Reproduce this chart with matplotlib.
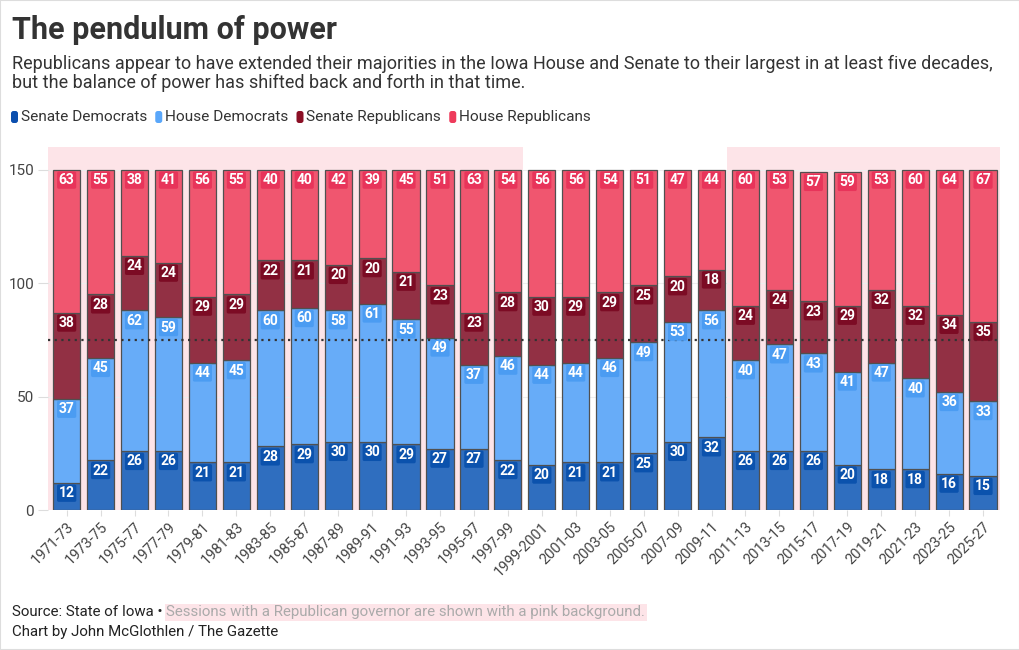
import matplotlib
matplotlib.use("Agg")
import matplotlib.pyplot as plt
from matplotlib.patches import FancyBboxPatch, Rectangle

plt.rcParams['font.family'] = ['Roboto', 'DejaVu Sans']

sessions = ['1971-73', '1973-75', '1975-77', '1977-79', '1979-81', '1981-83', '1983-85',
            '1985-87', '1987-89', '1989-91', '1991-93', '1993-95', '1995-97', '1997-99',
            '1999-2001', '2001-03', '2003-05', '2005-07', '2007-09', '2009-11', '2011-13',
            '2013-15', '2015-17', '2017-19', '2019-21', '2021-23', '2023-25', '2025-27']
senate_dem = [12, 22, 26, 26, 21, 21, 28, 29, 30, 30, 29, 27, 27, 22,
              20, 21, 21, 25, 30, 32, 26, 26, 26, 20, 18, 18, 16, 15]
house_dem = [37, 45, 62, 59, 44, 45, 60, 60, 58, 61, 55, 49, 37, 46,
             44, 44, 46, 49, 53, 56, 40, 47, 43, 41, 47, 40, 36, 33]
senate_rep = [38, 28, 24, 24, 29, 29, 22, 21, 20, 20, 21, 23, 23, 28,
              30, 29, 29, 25, 20, 18, 24, 24, 23, 29, 32, 32, 34, 35]
house_rep = [63, 55, 38, 41, 56, 55, 40, 40, 42, 39, 45, 51, 63, 54,
             56, 56, 54, 51, 47, 44, 60, 53, 57, 59, 53, 60, 64, 67]
# True = Republican governor (pink background)
rep_governor = [True] * 14 + [False] * 6 + [True] * 8

series = [
    ('Senate Democrats', senate_dem, '#2f6ebf', '#0b52ad'),
    ('House Democrats', house_dem, '#67acf8', '#4b9cf2'),
    ('Senate Republicans', senate_rep, '#923044', '#7c0b24'),
    ('House Republicans', house_rep, '#f0566f', '#e8345a'),
]

fig = plt.figure(figsize=(10.2, 6.5), dpi=100)
ax = fig.add_axes([48 / 1020, 1 - 510 / 650, (1000 - 48) / 1020, (510 - 147) / 650])

x = list(range(len(sessions)))
x_left, x_right = -0.55, len(sessions) - 0.5

# pink background for Republican governors
start = None
for i, r in enumerate(rep_governor + [False]):
    if r and start is None:
        start = i
    if not r and start is not None:
        lo = x_left if start == 0 else start - 0.55
        hi = x_right if i == len(sessions) else i - 0.55
        ax.axvspan(lo, hi, color='#fde4e8', lw=0, zorder=0)
        start = None

bottom = [0] * len(sessions)
for name, vals, col, lab_col in series:
    ax.bar(x, vals, width=0.8, bottom=bottom, color=col, edgecolor='#505050',
           linewidth=0.9, zorder=3)
    for i, v in enumerate(vals):
        top = bottom[i] + v
        ax.annotate(str(v), xy=(i, top), xytext=(0, -7.5), textcoords='offset points',
                    ha='center', va='center', color='white', fontsize=10,
                    fontweight='bold', zorder=5,
                    bbox=dict(boxstyle='round,pad=0.12', fc=lab_col, ec='none'))
    bottom = [b + v for b, v in zip(bottom, vals)]

ax.axhline(75, color='#333333', linestyle=(0, (1, 2)), linewidth=1.6, zorder=4)

ax.set_xlim(x_left, x_right)
ax.set_ylim(0, 160)
ax.set_yticks([0, 50, 100, 150])
ax.grid(axis='y', color='#eeeeee', linewidth=0.8, zorder=1)
ax.set_axisbelow(True)
ax.set_xticks(x)
ax.set_xticklabels(sessions, rotation=45, ha='right', rotation_mode='anchor')
ax.tick_params(axis='x', length=4, color='#dddddd', labelsize=10.5, labelcolor='#444444', pad=3)
ax.tick_params(axis='y', length=7, color='#dddddd', labelsize=11, labelcolor='#444444', pad=3)
for s in ax.spines.values():
    s.set_visible(False)

# titles
fig.text(12 / 1020, 1 - 39 / 650, 'The pendulum of power', fontsize=22, fontweight='bold',
         color='#333333', va='baseline')
fig.text(12 / 1020, 1 - 69 / 650,
         'Republicans appear to have extended their majorities in the Iowa House and Senate '
         'to their largest in at least five decades,', fontsize=13.0, color='#333333', va='baseline')
fig.text(12 / 1020, 1 - 88 / 650, 'but the balance of power has shifted back and forth in that time.',
         fontsize=13.0, color='#333333', va='baseline')

# legend
fig.canvas.draw()
renderer = fig.canvas.get_renderer()
legend_cols = ['#0b4fae', '#5aa7fa', '#8b0f25', '#ee3b5b']
px = 11
base_y = 650 - 121
for (name, _, _, _), lc in zip(series, legend_cols):
    sq = FancyBboxPatch((px, base_y - 2), 7, 12, boxstyle='round,pad=0,rounding_size=2.5',
                        fc=lc, ec='none', transform=None)
    fig.patches.append(sq)
    t = fig.text((px + 10) / 1020, base_y / 650, name, fontsize=11.1, color='#333333', va='baseline')
    w = t.get_window_extent(renderer).width
    px = px + 10 + w + 8

# footer
t1 = fig.text(12 / 1020, 1 - 616 / 650, 'Source: State of Iowa \u2022 ', fontsize=10.8,
              color='#222222', va='baseline')
w1 = t1.get_window_extent(renderer).width
fig.text((12 + w1) / 1020, 1 - 616 / 650,
         'Sessions with a Republican governor are shown with a pink background.',
         fontsize=10.8, color='#aaaaaa', va='baseline',
         bbox=dict(boxstyle='square,pad=0.1', fc='#fde4e8', ec='none'))
fig.text(12 / 1020, 1 - 636 / 650, 'Chart by John McGlothlen / The Gazette', fontsize=10.8,
         color='#222222', va='baseline')

fig.patches.append(Rectangle((0, 0), 1, 1, transform=fig.transFigure, fill=False,
                             ec='#dddddd', lw=1.5))

fig.savefig('out.png', dpi=100)
